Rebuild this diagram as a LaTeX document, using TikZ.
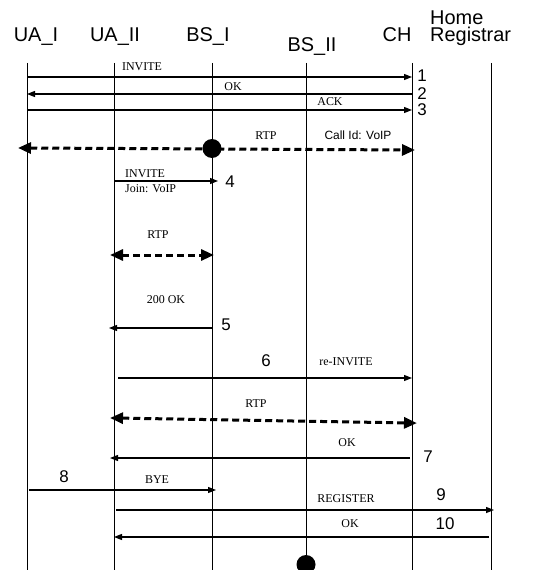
\documentclass[tikz,border=0pt]{standalone}
\usepackage{fontspec}
\setmainfont{Liberation Serif}
\setsansfont{Liberation Sans}
\usetikzlibrary{arrows.meta,positioning,calc}
\tikzset{life/.style={line width=0.7bp},
  msg/.style={-{Triangle[length=8bp,width=6bp]},line width=1.3bp},
  rtp/.style={{Triangle[length=13bp,width=11bp]}-{Triangle[length=13bp,width=11bp]},line width=3bp,dash pattern=on 7bp off 4bp},
  head/.style={anchor=base,inner sep=0pt,font=\sffamily\fontsize{20}{18}\selectfont},
  lbl/.style={anchor=base,inner sep=0pt,font=\fontsize{12}{12}\selectfont},
  num/.style={anchor=base,inner sep=0pt,font=\sffamily\fontsize{17}{17}\selectfont},
  dot/.style={circle,fill,inner sep=0pt,minimum size=19bp}}

\begin{document}
\begin{tikzpicture}[x=1bp,y=-1bp]
\useasboundingbox (0,0) rectangle (544,570);
\node[head] (hua1) at (36,42) {UA\_I};
\node[head] (hua2) at (115,42) {UA\_II};
\node[head] (hbs1) at (208,42) {BS\_I};
\node[head] (hbs2) at (312,52) {BS\_II};
\node[head] (hch) at (397,42) {CH};
\node[head,anchor=base west,align=left] (hhr) at (430,42) {Home\\Registrar};
\coordinate (ua1) at (27,63); \coordinate (ua1e) at (27,570);
\coordinate (ua2) at (114,63); \coordinate (ua2e) at (114,570);
\coordinate (bs1) at (212,63); \coordinate (bs1e) at (212,570);
\coordinate (bs2) at (306,63); \coordinate (bs2e) at (306,564);
\coordinate (ch) at (412,63); \coordinate (che) at (412,570);
\coordinate (hr) at (491,63); \coordinate (hre) at (491,570);
\foreach \a/\b in {ua1/ua1e,ua2/ua2e,bs1/bs1e,bs2/bs2e,ch/che,hr/hre}
  \draw[life] (\a) -- (\b);
\coordinate (m1) at (0,77); \coordinate (m2) at (0,94); \coordinate (m3) at (0,110);
\coordinate (r1a) at (0,148); \coordinate (r1b) at (0,150);
\coordinate (m4) at (0,181); \coordinate (r2) at (0,255); \coordinate (m5) at (0,328);
\coordinate (m6) at (0,378); \coordinate (r3a) at (0,418); \coordinate (r3b) at (0,423);
\coordinate (m7) at (0,458); \coordinate (m8) at (0,490); \coordinate (m9) at (0,510);
\coordinate (m10) at (0,537);
\draw[msg] (ua1 |- m1) -- (ch |- m1);
\draw[msg] (ch |- m2) -- (ua1 |- m2);
\draw[msg] (ua1 |- m3) -- (ch |- m3);
\draw[rtp,shorten <=-9bp,shorten >=-3bp] (ua1 |- r1a) -- (ch |- r1b);
\node[dot] (call) at ($(bs1 |- r1a)!0.5!(bs1 |- r1b)+(0,-0.5)$) {};
\draw[msg] (ua2 |- m4) -- ($(bs1 |- m4)+(6,0)$);
\draw[rtp,shorten <=-4bp,shorten >=-2bp] (ua2 |- r2) -- (bs1 |- r2);
\draw[msg,shorten >=-5bp] (bs1 |- m5) -- (ua2 |- m5);
\draw[msg] ($(ua2 |- m6)+(4,0)$) -- (ch |- m6);
\draw[rtp,shorten <=-4bp,shorten >=-5bp] (ua2 |- r3a) -- (ch |- r3b);
\draw[msg,shorten >=-4bp] ($(ch |- m7)+(-2,0)$) -- (ua2 |- m7);
\draw[msg,shorten >=-4bp] ($(ua1 |- m8)+(2,0)$) -- (bs1 |- m8);
\draw[msg,shorten >=-3bp] ($(ua2 |- m9)+(2,0)$) -- (hr |- m9);
\draw[msg] ($(hr |- m10)+(-2,0)$) -- (ua2 |- m10);
\node[dot] (reg) at ($(bs2e)+(0,0.5)$) {};
\node[lbl] (linv) at (142,71) {INVITE};
\node[lbl] (lok1) at (233,91) {OK};
\node[lbl] (lack) at (330,106) {ACK};
\node[lbl] (lrtp1) at (266,140) {RTP};
\node[lbl,font=\sffamily\fontsize{12}{12}\selectfont] (lcid) at (358,140) {Call Id: VoIP};
\node[lbl,anchor=base west] (ljoin) at (125,177) {INVITE};
\node[lbl,anchor=base west] (ljoin2) at (125,192) {Join: VoIP};
\node[lbl] (lrtp2) at (158,238) {RTP};
\node[lbl] (l200) at (166,303) {200 OK};
\node[lbl] (lreinv) at (346,365) {re-INVITE};
\node[lbl] (lrtp3) at (256,407) {RTP};
\node[lbl] (lok2) at (347,446) {OK};
\node[lbl] (lbye) at (157,483) {BYE};
\node[lbl] (lreg) at (346,502) {REGISTER};
\node[lbl] (lok3) at (350,527) {OK};
\node[num] (n1) at (422,82) {1};
\node[num] (n2) at (422,100) {2};
\node[num] (n3) at (422,116) {3};
\node[num] (n4) at (230,187) {4};
\node[num] (n5) at (226,330) {5};
\node[num] (n6) at (266,366) {6};
\node[num] (n7) at (428,462) {7};
\node[num] (n8) at (64,482) {8};
\node[num] (n9) at (441,500) {9};
\node[num] (n10) at (445,529) {10};
\end{tikzpicture}
\end{document}
